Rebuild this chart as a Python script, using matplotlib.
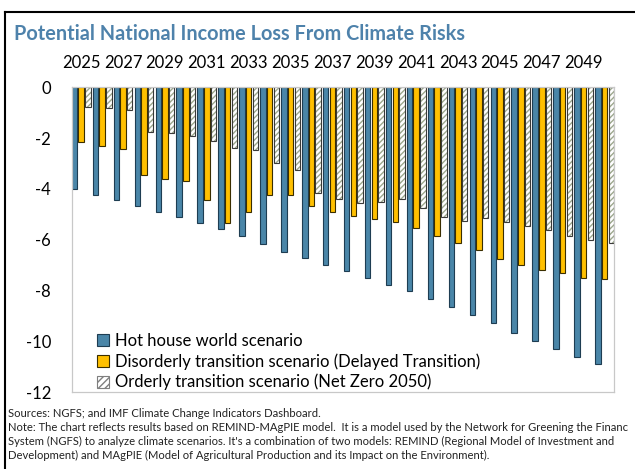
import matplotlib.pyplot as plt
from matplotlib.patches import Patch
from matplotlib.lines import Line2D
import numpy as np

plt.rcParams['font.family'] = ['Lato', 'DejaVu Sans']

years = list(range(2025, 2051))
hot_house = [-4.02, -4.25, -4.42, -4.69, -4.92, -5.11, -5.33, -5.60, -5.86, -6.18,
             -6.47, -6.74, -6.98, -7.23, -7.50, -7.77, -8.04, -8.33, -8.65, -8.98,
             -9.28, -9.67, -10.00, -10.30, -10.62, -10.91]
disorderly = [-2.17, -2.31, -2.43, -3.47, -3.60, -3.71, -4.42, -5.33, -4.93, -4.25,
              -4.25, -4.69, -4.91, -5.07, -5.18, -5.30, -5.53, -5.85, -6.15, -6.39,
              -6.78, -7.00, -7.20, -7.33, -7.49, -7.53]
orderly = [-0.79, -0.83, -0.88, -1.77, -1.79, -1.91, -2.12, -2.41, -2.46, -3.00,
           -3.26, -4.18, -4.40, -4.57, -4.51, -4.40, -4.77, -5.12, -5.27, -5.14,
           -5.30, -5.45, -5.62, -5.85, -6.02, -6.15]
labels = ['Hot house world scenario',
          'Disorderly transition scenario (Delayed Transition)',
          'Orderly transition scenario (Net Zero 2050)']

blue = '#4A86A8'
yellow = '#FFC000'
hatch_col = '#9DA88E'

fig = plt.figure(figsize=(6.35, 4.69), dpi=100)
ax = fig.add_axes([0.113, 0.164, 0.854, 0.650])

x = np.arange(len(years))
w = 0.26
off = 0.32
ax.bar(x - off, hot_house, w, color=blue, edgecolor='#1E3D52', linewidth=0.8)
ax.bar(x, disorderly, w, color=yellow, edgecolor='#3A2E00', linewidth=0.8)
# hatched bars: stripes first, then a dark outline on top
ax.bar(x + off, orderly, w, color='white', edgecolor=hatch_col, hatch='//////', linewidth=0)
ax.bar(x + off, orderly, w, fill=False, edgecolor='#3a3a3a', linewidth=0.8)

ax.set_xlim(-0.45, 25.45)
ax.set_ylim(-12, 0)
ax.set_yticks(range(-12, 1, 2))
ax.set_yticklabels([str(v) for v in range(-12, 1, 2)])
ax.xaxis.tick_top()
ax.set_xticks(x[::2])
ax.set_xticklabels([str(y) for y in years[::2]])
ax.tick_params(axis='x', length=0, pad=12, labelsize=12)
ax.tick_params(axis='y', length=0, pad=15, labelsize=12)
for s in ax.spines.values():
    s.set_color('#C8C8C8')
    s.set_linewidth(0.9)

handles = [Patch(facecolor=blue, edgecolor='#1E3D52', linewidth=0.8),
           Patch(facecolor=yellow, edgecolor='#3A2E00', linewidth=0.8),
           Patch(facecolor='white', edgecolor='#7f7f7f', hatch='/////', linewidth=0.8)]
ax.legend(handles, labels, loc='lower left', bbox_to_anchor=(0.043, 0.0),
          frameon=False, borderaxespad=0, borderpad=0.1, fontsize=12,
          handlelength=0.75, handleheight=0.75, handletextpad=0.35, labelspacing=0.25)

fig.text(0.022, 0.927, 'Potential National Income Loss From Climate Risks',
         fontsize=14.3, fontweight='bold', color='#4E82AB', va='center')

notes = ['Sources: NGFS; and IMF Climate Change Indicators Dashboard.',
         'Note: The chart reflects results based on REMIND-MAgPIE model.  It is a model used by the Network for Greening the Financ',
         "System (NGFS) to analyze climate scenarios. It's a combination of two models: REMIND (Regional Model of Investment and",
         'Development) and MAgPIE (Model of Agricultural Production and its Impact on the Environment).']
for i, line in enumerate(notes):
    fig.text(0.013, 1 - (413 + 14 * i) / 469, line, fontsize=8.1, va='center', color='#222222')

# outer frame
fig.add_artist(Line2D([5 / 635, 5 / 635], [0, 1 - 12 / 469], color='black', lw=1.5))
fig.add_artist(Line2D([5 / 635, 1], [1 - 12 / 469, 1 - 12 / 469], color='black', lw=1.5))

fig.savefig('out.png', dpi=100)
